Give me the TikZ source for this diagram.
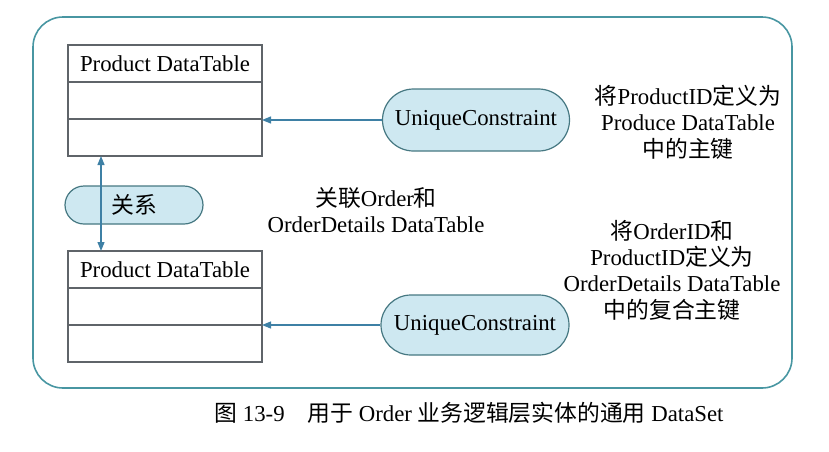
\documentclass[tikz,border=0pt]{standalone}
\usepackage{fontspec}
\setmainfont{Liberation Serif}
\newfontfamily\cjk{Noto Sans CJK SC}
\newcommand{\zh}[1]{{\cjk #1}}
\usetikzlibrary{positioning,arrows.meta}
\definecolor{cadreTeal}{RGB}{72,150,162}
\definecolor{pilFond}{RGB}{206,232,241}
\definecolor{pilBord}{RGB}{70,120,130}
\definecolor{flecheBleu}{RGB}{62,128,165}
\definecolor{tabTrait}{RGB}{95,100,105}

\begin{document}
\begin{tikzpicture}[
  x=0.5pt, y=-0.5pt,
  every node/.style={font=\fontsize{11.4}{13.2}\selectfont},
  entete/.style={draw=tabTrait, line width=0.6pt, minimum width=97pt, minimum height=18.5pt,
                 inner sep=0pt, outer sep=0pt, anchor=north},
  ligne/.style={draw=tabTrait, line width=0.6pt, minimum width=97pt, minimum height=18.5pt,
                inner sep=0pt, outer sep=0pt, below=0pt},
  pil/.style={draw=pilBord, line width=0.6pt, fill=pilFond, rounded corners=#1, inner sep=0pt},
  fleche/.style={line width=0.6pt, flecheBleu, -{Triangle[length=4.5pt,width=3.5pt]}},
  note/.style={align=center}
]
\useasboundingbox (0,0) rectangle (829,451);

% ---- cadre du DataSet ----
\draw[cadreTeal, line width=0.8pt, rounded corners=15pt] (33,17) rectangle (792,388);

% ---- table du haut ----
\node[entete] (prodTete) at (165,45) {Product DataTable};
\node[ligne] (prodL1) at (prodTete.south) {};
\node[ligne] (prodL2) at (prodL1.south) {};

% ---- table du bas ----
\node[entete] (detTete) at (165,251) {Product DataTable};
\node[ligne] (detL1) at (detTete.south) {};
\node[ligne] (detL2) at (detL1.south) {};

% ---- relation entre les deux tables ----
\node[pil=9.5pt, minimum width=69pt, minimum height=19pt] (rel) at (134,205) {\zh{关系}};
\draw[fleche, {Triangle[length=4.5pt,width=3.5pt]}-{Triangle[length=4.5pt,width=3.5pt]}]
      (prodL2.south -| 101,0) -- (detTete.north -| 101,0);
\node[note] (relTxt) at (376,210) {\zh{关联}Order\zh{和}\\OrderDetails DataTable};

% ---- contraintes ----
\node[pil=15.5pt, minimum width=93.5pt, minimum height=31pt] (uc1) at (476,120) {UniqueConstraint};
\node[pil=15pt, minimum width=94pt, minimum height=30pt] (uc2) at (475,325) {UniqueConstraint};
\draw[fleche] (uc1.west) -- (uc1.west -| prodL1.east);
\draw[fleche] (uc2.west) -- (uc2.west -| detL1.east);

\node[note] (uc1Txt) at (688,122) {\zh{将}ProductID\zh{定义为}\\Produce DataTable\\\zh{中的主键}};
\node[note] (uc2Txt) at (672,270) {\zh{将}OrderID\zh{和}\\ProductID\zh{定义为}\\OrderDetails DataTable\\\zh{中的复合主键}};

% ---- legende ----
\node (legende) at (469,413) {\zh{图} 13-9\quad\zh{用于} Order \zh{业务逻辑层实体的通用} DataSet};

\end{tikzpicture}
\end{document}
